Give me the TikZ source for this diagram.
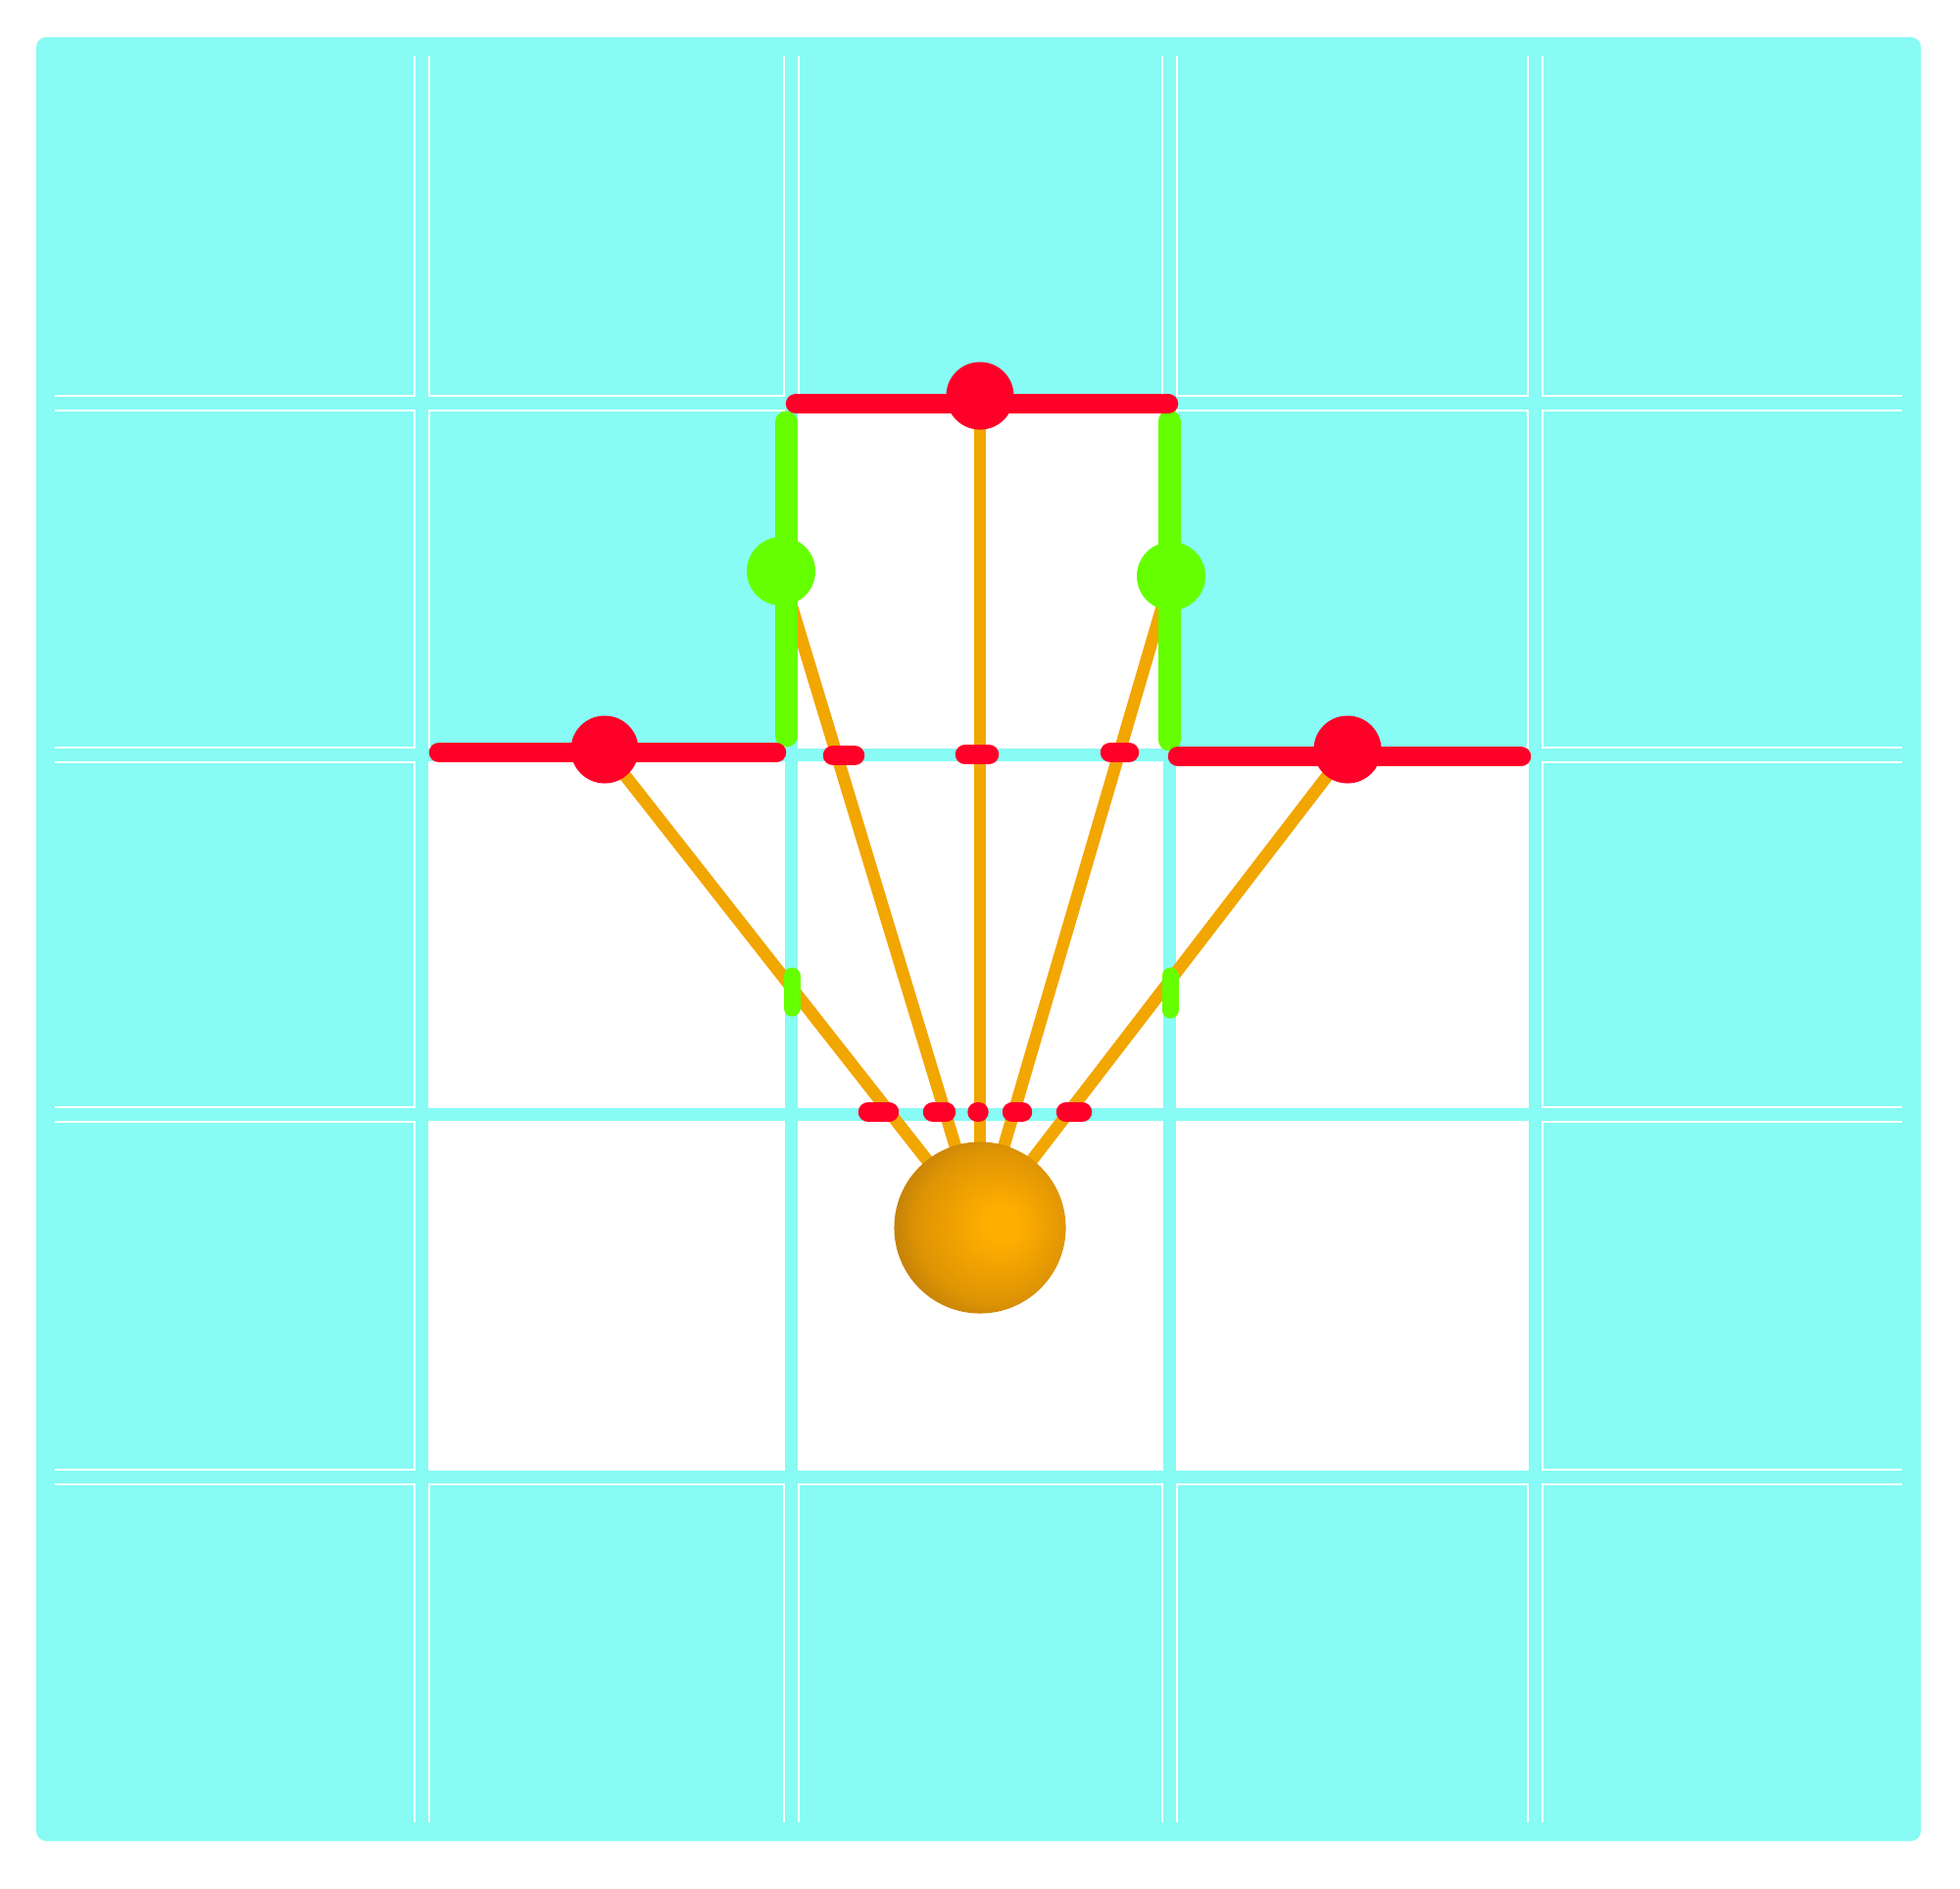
\documentclass[tikz,border=0pt]{standalone}
\definecolor{cy}{RGB}{135,251,244}
\definecolor{rd}{RGB}{255,0,40}
\definecolor{gr}{RGB}{102,255,0}
\definecolor{og}{RGB}{242,166,0}
\definecolor{sa}{RGB}{255,174,0}
\definecolor{sb}{RGB}{222,148,4}
\definecolor{sc}{RGB}{186,122,10}
\pgfdeclareradialshading{sph}{\pgfqpoint{7bp}{1bp}}{color(0bp)=(sa); color(5bp)=(sa); color(22bp)=(sb); color(31bp)=(sc); color(50bp)=(sc)}
\tikzset{
  gridwhite/.style={white, line width=0.17cm},
  gridcyan/.style={cy, line width=0.13cm},
  ray/.style={og, line width=0.125cm},
  redbar/.style={rd, line width=0.205cm, line cap=round},
  greenbar/.style={gr, line width=0.23cm, line cap=round},
  reddash/.style={rd, line width=0.205cm, line cap=round},
  greendash/.style={gr, line width=0.17cm, line cap=round},
  redball/.style={circle, fill=rd, inner sep=0pt, minimum size=0.69cm},
  greenball/.style={circle, fill=gr, inner sep=0pt, minimum size=0.70cm},
  sunball/.style={circle, shading=sph, inner sep=0pt, minimum size=1.75cm},
}
\begin{document}
\begin{tikzpicture}[x=0.01cm,y=-0.01cm]
\useasboundingbox (0,0) rectangle (2000,1927);
% background
\fill[cy, rounded corners=0.1cm] (37,38) rectangle (1960,1879);
\foreach \x in {430,807,1193,1566} \draw[gridwhite] (\x,57) -- (\x,1860);
\foreach \y in {411,770,1137,1507} \draw[gridwhite] (56,\y) -- (1941,\y);
\foreach \x in {430,807,1193,1566} \draw[gridcyan] (\x,57) -- (\x,1860);
\foreach \y in {411,770,1137,1507} \draw[gridcyan] (56,\y) -- (1941,\y);
% white cells
\fill[white] (814,418) rectangle (1186,763);
\fill[white] (437,777) rectangle (800,1130);
\fill[white] (814,777) rectangle (1186,1130);
\fill[white] (1200,777) rectangle (1559,1130);
\fill[white] (437,1144) rectangle (800,1500);
\fill[white] (814,1144) rectangle (1186,1500);
\fill[white] (1200,1144) rectangle (1559,1500);
% positions
\coordinate (pT) at (1000,404);
\coordinate (pLG) at (797,583);
\coordinate (pRG) at (1195,588);
\coordinate (pLR) at (617,765);
\coordinate (pRR) at (1375,765);
\coordinate (pS) at (1000,1253);
% rays
\draw[ray] (pLR) -- (pS);
\draw[ray] (pLG) -- (pS);
\draw[ray] (pT) -- (pS);
\draw[ray] (pRG) -- (pS);
\draw[ray] (pRR) -- (pS);
% bars
\draw[greenbar] (802,431) -- (802,751);
\draw[greenbar] (1193,430) -- (1193,755);
\draw[redbar] (812,412) -- (1192,412);
\draw[redbar] (448,768) -- (792,768);
\draw[redbar] (1202,772) -- (1552,772);
% balls
\node[redball] (T) at (pT) {};
\node[greenball] (LG) at (pLG) {};
\node[greenball] (RG) at (pRG) {};
\node[redball] (LR) at (pLR) {};
\node[redball] (RR) at (pRR) {};
% dashes
\draw[reddash] (850,771) -- (872,771);
\draw[reddash] (985,770) -- (1009,770);
\draw[reddash] (1133,768) -- (1152,768);
\draw[reddash] (886,1135) -- (907,1135);
\draw[reddash] (952,1135) -- (965,1135);
\draw[reddash] (997.5,1135) -- (998.5,1135);
\draw[reddash] (1033,1135) -- (1043,1135);
\draw[reddash] (1088,1135) -- (1104,1135);
\draw[greendash] (808,996) -- (808,1029);
\draw[greendash] (1194,996) -- (1194,1031);
% sphere
\node[sunball] (S) at (pS) {};
\end{tikzpicture}
\end{document}
